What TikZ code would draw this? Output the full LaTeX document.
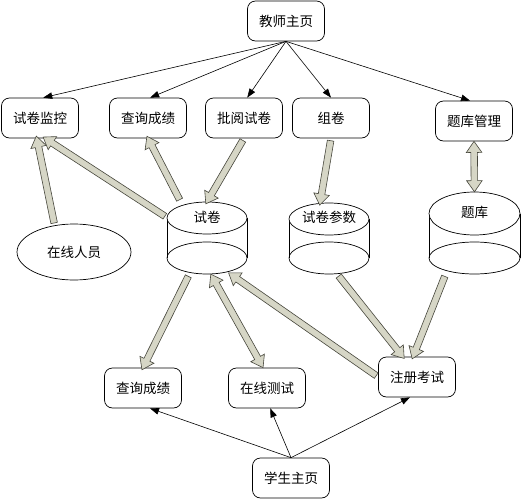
\documentclass[tikz,border=0pt]{standalone}
\usepackage{fontspec}
\setmainfont{Noto Sans CJK SC}
\usetikzlibrary{arrows.meta,shapes.geometric,shapes.arrows,calc}

\definecolor{fatfill}{RGB}{214,214,198}
\definecolor{fatline}{RGB}{70,70,60}

\tikzset{
  page/.style={draw,line width=0.7pt,rounded corners=8pt,minimum width=77pt,minimum height=40pt,inner sep=0pt},
  thinarr/.style={-{Triangle[length=9pt,width=6.5pt]},line width=0.6pt},
  fatarr/.style={single arrow,draw=fatline,fill=fatfill,line width=0.6pt,inner xsep=0pt,inner ysep=3pt,
    minimum width=15pt,single arrow head extend=4.5pt,single arrow tip angle=70},
  fatboth/.style={double arrow,draw=fatline,fill=fatfill,line width=0.6pt,inner xsep=0pt,inner ysep=3pt,
    minimum width=15pt,double arrow head extend=4.5pt,double arrow tip angle=70}
}

% drum: name, cx, top cy, rx, top ry, bottom cy, label, label y
\newcommand\drum[8]{%
  \draw[line width=0.7pt] (#2-#4,#3) -- (#2-#4,#6) (#2+#4,#3) -- (#2+#4,#6);
  \draw[line width=0.7pt] (#2,#6) ellipse[x radius=#4,y radius=16];
  \draw[line width=0.7pt,fill=white] (#2,#3) ellipse[x radius=#4,y radius=#5];
  \node[inner sep=0pt,minimum width=2*#4,minimum height=#6+16-#3+#5] (#1) at (#2,{(#3-#5+#6+16)/2}) {};
  \node (#1t) at (#2,#8) {#7};}

% fat link: style, from, to
\newcommand\fatlink[3][fatarr]{%
  \path let \p1=($(#3)-(#2)$),\n1={veclen(\x1,\y1)},\n2={atan2(\y1,\x1)} in
    node[#1,minimum height=\n1,rotate=\n2] at ($(#2)!0.5!(#3)$) {};}

\begin{document}
\begin{tikzpicture}[x=1pt,y=-1pt,font=\fontsize{13.5}{16}\selectfont]
\fill[white] (0,0) rectangle (531,501);
\useasboundingbox (0,0) rectangle (531,501);

% teacher side
\node[page] (js) at (286,21) {教师主页};
\node[page] (jk) at (40,118) {试卷监控};
\node[page] (cx1) at (148,118) {查询成绩};
\node[page] (py) at (244,118) {批阅试卷};
\node[page] (zj) at (331,118) {组卷};
\node[page] (tg) at (474,121) {题库管理};
\node[draw,line width=0.7pt,ellipse,minimum width=114pt,minimum height=56pt,inner sep=0pt] (zxry) at (74,252) {在线人员};

% stores
\drum{sj}{207}{218}{40}{16}{258}{试卷}{217}
\drum{cs}{329}{219}{40}{16}{258}{试卷参数}{217}
\drum{tk}{474.5}{213.5}{45.5}{21.5}{258}{题库}{212}

% student side
\node[page] (cx2) at (143,388) {查询成绩};
\node[page] (zc) at (267,388) {在线测试};
\node[page] (zk) at (417,377) {注册考试};
\node[page] (xs) at (291,478) {学生主页};

% thin links
\foreach \t/\a in {jk/81,cx1/84,py/81,zj/90,tg/101}
  \draw[thinarr] (js.south) -- (\t.\a);
\foreach \t/\a in {cx2/289,zc/279,zk/251}
  \draw[thinarr] (xs.north) -- (\t.\a);

% fat links
\fatlink{zxry.126}{jk.261}
\fatlink{sj.153}{jk.284}
\fatlink{sj.126}{cx1.south}
\fatlink{py.south}{sj.north}
\fatlink{zj.south}{cs.104}
\fatlink[fatboth]{tg.south}{tk.north}
\fatlink{sj.244}{cx2.north}
\fatlink[fatboth]{zc.101}{sj.276}
\fatlink{zk.west}{sj.303}
\fatlink{cs.283}{zk.125}
\fatlink{tk.235}{zk.101}
\end{tikzpicture}
\end{document}
